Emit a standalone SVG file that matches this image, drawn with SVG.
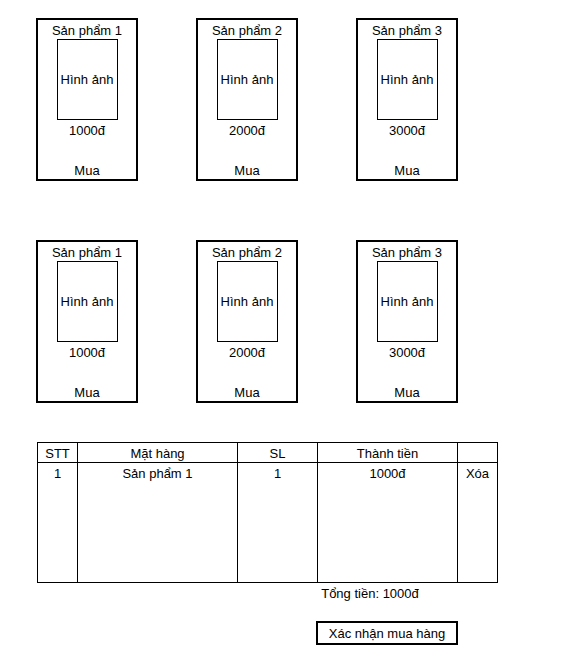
<svg xmlns="http://www.w3.org/2000/svg" width="567" height="671" viewBox="0 0 567 671">
<defs>
<style>
text{font-family:"Liberation Sans",Arial,sans-serif;font-size:13px;fill:#000;text-anchor:middle;dominant-baseline:central}
.outer{fill:#fff;stroke:#000;stroke-width:2}
.inner{fill:#fff;stroke:#000;stroke-width:1}
.tl{fill:none;stroke:#000;stroke-width:1}
</style>
<g id="card">
<rect class="outer" x="0" y="0" width="100" height="161"/>
<rect class="inner" x="20.5" y="20.5" width="60" height="80"/>
<text x="50" y="60">Hình ảnh</text>
<text x="50" y="151">Mua</text>
</g>
</defs>
<g id="p1"><use href="#card" x="37" y="19"/><text x="87" y="30">Sản phẩm 1</text><text x="87" y="130">1000đ</text></g>
<g id="p2"><use href="#card" x="197" y="19"/><text x="247" y="30">Sản phẩm 2</text><text x="247" y="130">2000đ</text></g>
<g id="p3"><use href="#card" x="357" y="19"/><text x="407" y="30">Sản phẩm 3</text><text x="407" y="130">3000đ</text></g>
<g id="p4"><use href="#card" x="37" y="241"/><text x="87" y="252">Sản phẩm 1</text><text x="87" y="352">1000đ</text></g>
<g id="p5"><use href="#card" x="197" y="241"/><text x="247" y="252">Sản phẩm 2</text><text x="247" y="352">2000đ</text></g>
<g id="p6"><use href="#card" x="357" y="241"/><text x="407" y="252">Sản phẩm 3</text><text x="407" y="352">3000đ</text></g>
<g id="cart">
<rect class="tl" x="37.5" y="442.5" width="460" height="140"/>
<path class="tl" d="M37.5 462.5H497.5M77.5 442.5V582.5M237.5 442.5V582.5M317.5 442.5V582.5M457.5 442.5V582.5"/>
<text x="57.5" y="453">STT</text>
<text x="157.5" y="453">Mặt hàng</text>
<text x="277.5" y="453">SL</text>
<text x="387.5" y="453">Thành tiền</text>
<text x="57.5" y="473">1</text>
<text x="157.5" y="473">Sản phẩm 1</text>
<text x="277.5" y="473">1</text>
<text x="387.5" y="473">1000đ</text>
<text x="477.5" y="473">Xóa</text>
</g>
<g id="total"><text x="370" y="593">Tổng tiền: 1000đ</text></g>
<g id="confirm">
<rect class="outer" x="317" y="622" width="140" height="22"/>
<text x="387" y="633">Xác nhận mua hàng</text>
</g>
</svg>
